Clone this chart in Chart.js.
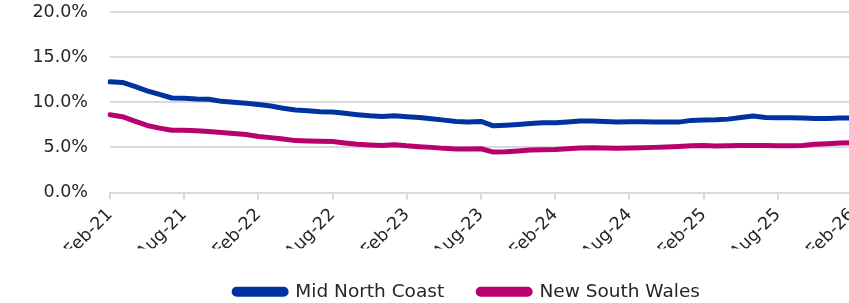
<!DOCTYPE html>
<html>
<head>
<meta charset="utf-8">
<script src="https://cdn.jsdelivr.net/npm/chart.js@4/dist/chart.umd.min.js"></script>
<style>
  html, body { margin: 0; padding: 0; overflow: hidden; background: #fff; width: 849px; height: 303px; }
  #wrap { position: absolute; left: 0; top: 0; width: 934px; height: 311px; }
</style>
</head>
<body>
<div id="wrap"><canvas id="c"></canvas></div>
<script>
const categories = [
  "Feb-21","Mar-21","Apr-21","May-21","Jun-21","Jul-21","Aug-21","Sep-21","Oct-21","Nov-21","Dec-21","Jan-22",
  "Feb-22","Mar-22","Apr-22","May-22","Jun-22","Jul-22","Aug-22","Sep-22","Oct-22","Nov-22","Dec-22","Jan-23",
  "Feb-23","Mar-23","Apr-23","May-23","Jun-23","Jul-23","Aug-23","Sep-23","Oct-23","Nov-23","Dec-23","Jan-24",
  "Feb-24","Mar-24","Apr-24","May-24","Jun-24","Jul-24","Aug-24","Sep-24","Oct-24","Nov-24","Dec-24","Jan-25",
  "Feb-25","Mar-25","Apr-25","May-25","Jun-25","Jul-25","Aug-25","Sep-25","Oct-25","Nov-25","Dec-25","Jan-26",
  "Feb-26"
];
const midNorthCoast = [
  12.27, 12.2, 11.75, 11.27, 10.88, 10.47, 10.45, 10.37, 10.33, 10.1, 10.0, 9.88,
  9.75, 9.59, 9.33, 9.14, 9.07, 8.96, 8.92, 8.77, 8.62, 8.5, 8.43, 8.5,
  8.4, 8.32, 8.18, 8.02, 7.87, 7.8, 7.87, 7.39, 7.46, 7.54, 7.65, 7.73,
  7.72, 7.8, 7.91, 7.91, 7.87, 7.8, 7.84, 7.84, 7.8, 7.8, 7.8, 7.99,
  8.04, 8.06, 8.13, 8.32, 8.47, 8.32, 8.29, 8.29, 8.25, 8.21, 8.21, 8.25,
  8.25
];
const newSouthWales = [
  8.62, 8.4, 7.9, 7.43, 7.13, 6.9, 6.9, 6.83, 6.76, 6.64, 6.53, 6.42,
  6.2, 6.08, 5.93, 5.75, 5.71, 5.67, 5.64, 5.49, 5.34, 5.27, 5.22, 5.3,
  5.17, 5.08, 5.0, 4.89, 4.82, 4.82, 4.85, 4.48, 4.52, 4.6, 4.71, 4.74,
  4.76, 4.85, 4.93, 4.97, 4.93, 4.89, 4.93, 4.97, 5.0, 5.04, 5.11, 5.19,
  5.21, 5.15, 5.19, 5.22, 5.22, 5.22, 5.19, 5.19, 5.22, 5.34, 5.41, 5.49,
  5.5
];
const seriesNames = ["Mid North Coast", "New South Wales"];
const yTicks = [0, 5, 10, 15, 20];

const BLUE = "#0033a0";
const MAGENTA = "#b8006e";
const GRID = "#d9d9d9";
const TEXT = "#262626";
const FONT = "'DejaVu Sans'";

new Chart(document.getElementById("c"), {
  type: "line",
  data: {
    labels: categories,
    datasets: [
      { label: seriesNames[0], data: midNorthCoast, borderColor: BLUE, backgroundColor: BLUE,
        borderWidth: 5, pointRadius: 0, tension: 0, borderJoinStyle: "round", borderCapStyle: "round" },
      { label: seriesNames[1], data: newSouthWales, borderColor: MAGENTA, backgroundColor: MAGENTA,
        borderWidth: 5, pointRadius: 0, tension: 0, borderJoinStyle: "round", borderCapStyle: "round" }
    ]
  },
  options: {
    responsive: true,
    maintainAspectRatio: false,
    animation: false,
    layout: { padding: { top: 12, left: 0, right: 0, bottom: 0 } },
    plugins: {
      tooltip: { enabled: false },
      legend: {
        position: "bottom",
        labels: {
          boxWidth: 52, boxHeight: 5, padding: 34, color: TEXT,
          useBorderRadius: true, borderRadius: 2.5,
          font: { family: FONT, size: 18.5 }
        }
      }
    },
    scales: {
      x: {
        offset: false,
        grid: {
          drawOnChartArea: false, drawTicks: true, tickLength: 7, lineWidth: 2,
          color: (ctx) => (ctx.index % 6 === 0 ? GRID : "rgba(0,0,0,0)")
        },
        border: { display: true, color: GRID, width: 2 },
        ticks: {
          autoSkip: false, maxRotation: 45, minRotation: 45, padding: 5, color: TEXT,
          font: { family: FONT, size: 17.5 },
          callback: function (v, i) { return i % 6 === 0 ? categories[i] : ""; }
        },
        afterFit: (s) => { s.height = 56; }
      },
      y: {
        min: 0, max: 20,
        afterBuildTicks: (s) => { s.ticks = yTicks.map(v => ({ value: v })); },
        grid: { drawTicks: false, color: GRID, lineWidth: 2 },
        border: { display: false },
        ticks: {
          padding: 22, color: TEXT,
          font: { family: FONT, size: 17.5 },
          callback: (v) => v.toFixed(1) + "%"
        },
        afterFit: (s) => { s.width = 110; s.paddingTop = 0; s.paddingBottom = 0; }
      },
      y2: {
        position: "right",
        display: true,
        grid: { display: false, drawTicks: false },
        border: { display: false },
        ticks: { display: false },
        afterFit: (s) => { s.width = 82; }
      }
    }
  }
});
</script>
</body>
</html>
